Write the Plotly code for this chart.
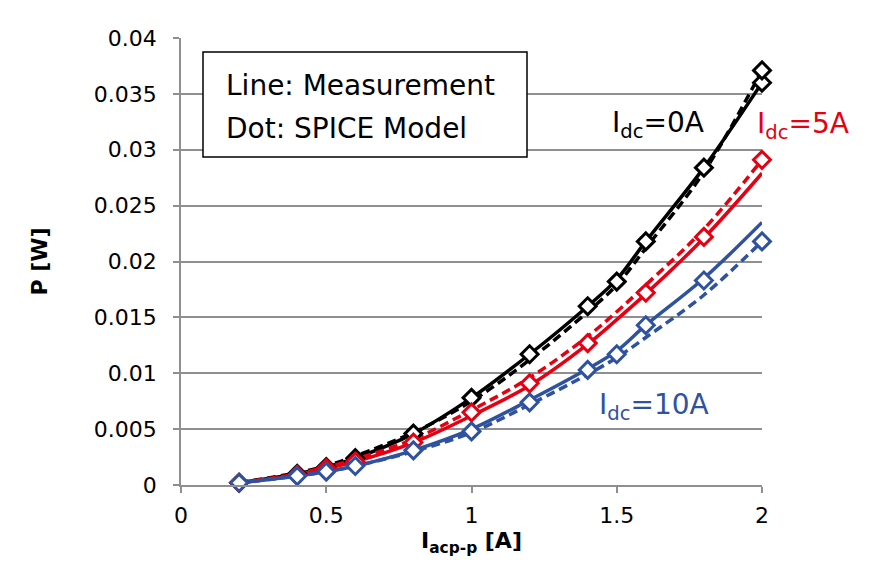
import plotly.graph_objects as go

# ---- data ----
x_pts = [0.2, 0.4, 0.5, 0.6, 0.8, 1.0, 1.2, 1.4, 1.5, 1.6, 1.8, 2.0]

# Measurement (solid lines)
meas_0A = [0.0002, 0.0010, 0.0016, 0.0024, 0.0046, 0.0078, 0.0117, 0.0160, 0.0184, 0.0218, 0.0284, 0.0360]
meas_5A = [0.0002, 0.0009, 0.0015, 0.0021, 0.0038, 0.0062, 0.0089, 0.0126, 0.0148, 0.0171, 0.0221, 0.0279]
meas_10A = [0.0002, 0.0008, 0.0012, 0.0017, 0.0031, 0.0050, 0.0076, 0.0104, 0.0120, 0.0143, 0.0185, 0.0235]

# SPICE model (dashed lines)
spice_0A = [0.0002, 0.0011, 0.0017, 0.0026, 0.0047, 0.0075, 0.0112, 0.0155, 0.0179, 0.0212, 0.0280, 0.0371]
spice_5A = [0.0002, 0.0010, 0.0016, 0.0023, 0.0041, 0.0067, 0.0096, 0.0133, 0.0155, 0.0179, 0.0229, 0.0291]
spice_10A = [0.0002, 0.0008, 0.0012, 0.0017, 0.0030, 0.0047, 0.0072, 0.0099, 0.0114, 0.0132, 0.0170, 0.0218]

# Marker points
mk_x_0A = [0.2, 0.4, 0.5, 0.6, 0.8, 1.0, 1.2, 1.4, 1.5, 1.6, 1.8, 2.0, 2.0]
mk_y_0A = [0.0002, 0.0010, 0.0016, 0.0024, 0.0046, 0.0078, 0.0117, 0.0160, 0.0182, 0.0218, 0.0284, 0.0360, 0.0371]
mk_x_5A = [0.2, 0.4, 0.5, 0.6, 0.8, 1.0, 1.2, 1.4, 1.6, 1.8, 2.0]
mk_y_5A = [0.0002, 0.0009, 0.0015, 0.0021, 0.0038, 0.0065, 0.0091, 0.0127, 0.0172, 0.0222, 0.0291]
mk_x_10A = [0.2, 0.4, 0.5, 0.6, 0.8, 1.0, 1.2, 1.4, 1.5, 1.6, 1.8, 2.0]
mk_y_10A = [0.0002, 0.0008, 0.0012, 0.0017, 0.0031, 0.0048, 0.0074, 0.0103, 0.0117, 0.0143, 0.0183, 0.0218]

x_ticks = [0, 0.5, 1, 1.5, 2]
x_tick_labels = ["0", "0.5", "1", "1.5", "2"]
y_ticks = [0, 0.005, 0.01, 0.015, 0.02, 0.025, 0.03, 0.035, 0.04]
y_tick_labels = ["0", "0.005", "0.01", "0.015", "0.02", "0.025", "0.03", "0.035", "0.04"]

BLACK = "#000000"
RED = "#E60012"
BLUE = "#2F52A0"
GRID = "#8F8F8F"
FONT = "DejaVu Sans, sans-serif"

# plot-area geometry in pixels (for paper-coordinate placement of notes)
PL, PR, PT, PB = 181, 762, 38, 485
def px(x):
    return (x - PL) / (PR - PL)
def py(y):
    return (PB - y) / (PB - PT)

fig = go.Figure()

series = [
    (meas_0A, spice_0A, mk_x_0A, mk_y_0A, BLACK),
    (meas_5A, spice_5A, mk_x_5A, mk_y_5A, RED),
    (meas_10A, spice_10A, mk_x_10A, mk_y_10A, BLUE),
]
for meas, spice, mx, my, col in series:
    fig.add_trace(go.Scatter(x=x_pts, y=spice, mode="lines",
                             line=dict(color=col, width=3.5, dash="9px,5px", shape="spline"),
                             showlegend=False, hoverinfo="skip"))
    fig.add_trace(go.Scatter(x=x_pts, y=meas, mode="lines",
                             line=dict(color=col, width=3.5, shape="spline"),
                             showlegend=False))
for meas, spice, mx, my, col in series:
    fig.add_trace(go.Scatter(x=mx, y=my, mode="markers",
                             marker=dict(symbol="diamond", size=13, color="white",
                                         line=dict(color=col, width=3)),
                             showlegend=False, cliponaxis=False))

fig.update_layout(
    width=891, height=573,
    margin=dict(l=PL, r=891 - PR, t=PT, b=573 - PB),
    paper_bgcolor="white", plot_bgcolor="white",
    font=dict(family=FONT, size=22, color="black"),
    xaxis=dict(range=[0, 2], tickvals=x_ticks, ticktext=x_tick_labels,
               showgrid=False, zeroline=False,
               showline=True, linecolor=GRID, linewidth=1.5,
               ticks="outside", ticklen=6, tickcolor=GRID, tickwidth=1.5,
               ticklabelstandoff=4,
               title=dict(text="<b>I<sub>acp-p</sub> [A]</b>", font=dict(size=22), standoff=4)),
    yaxis=dict(range=[0, 0.04], tickvals=y_ticks, ticktext=y_tick_labels,
               showgrid=True, gridcolor=GRID, gridwidth=1.5, zeroline=False,
               showline=True, linecolor=GRID, linewidth=1.5,
               ticks="outside", ticklen=6, tickcolor=GRID, tickwidth=1.5,
               ticklabelstandoff=12,
               title=dict(text="<b>P [W]</b>", font=dict(size=22), standoff=40)),
    shapes=[
        dict(type="rect", xref="paper", yref="paper",
             x0=px(203), x1=px(527), y0=py(157), y1=py(52),
             line=dict(color="black", width=1.5), fillcolor="white", layer="above"),
    ],
    annotations=[
        dict(text="Line: Measurement", xref="paper", yref="paper",
             x=px(224), y=py(85), xanchor="left", yanchor="middle",
             showarrow=False, font=dict(size=28, color="black")),
        dict(text="Dot: SPICE Model", xref="paper", yref="paper",
             x=px(224), y=py(128), xanchor="left", yanchor="middle",
             showarrow=False, font=dict(size=28, color="black")),
        dict(text="I<sub>dc</sub>=0A", xref="paper", yref="paper",
             x=px(610), y=py(124), xanchor="left", yanchor="middle",
             showarrow=False, font=dict(size=28, color=BLACK)),
        dict(text="I<sub>dc</sub>=5A", xref="paper", yref="paper",
             x=px(755), y=py(126), xanchor="left", yanchor="middle",
             showarrow=False, font=dict(size=28, color=RED)),
        dict(text="I<sub>dc</sub>=10A", xref="paper", yref="paper",
             x=px(597), y=py(406), xanchor="left", yanchor="middle",
             showarrow=False, font=dict(size=28, color=BLUE)),
    ],
)

fig.write_html("out.html")
